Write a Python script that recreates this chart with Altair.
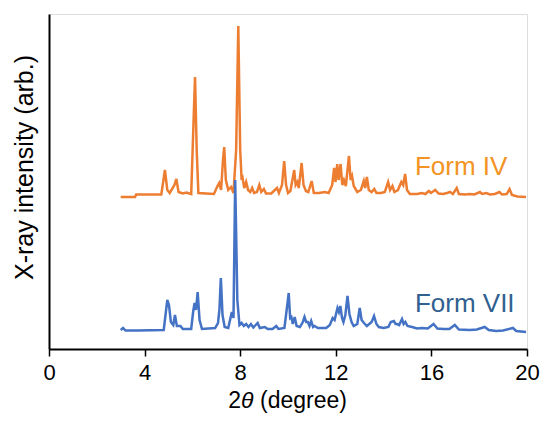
import altair as alt
import pandas as pd

# Form IV pattern (2theta in degrees, intensity in arb. units incl. stacking offset)
iv_2theta = [3.0, 3.6, 3.65, 4.7, 4.85, 4.95, 5.05, 5.25, 5.33, 5.42, 5.6, 5.75, 5.95, 6.05, 6.11, 6.18, 6.25,
             6.9, 7.05, 7.12, 7.2, 7.28, 7.33, 7.4, 7.5, 7.62, 7.72, 7.83, 7.92, 8.0, 8.06, 8.1, 8.17, 8.25,
             8.33, 8.42, 8.5, 8.58, 8.7, 8.8, 8.88, 8.99, 9.08, 9.3, 9.45, 9.54, 9.62, 9.75, 9.84, 9.92, 10.0,
             10.1, 10.2, 10.26, 10.32, 10.39, 10.45, 10.57, 10.65, 10.75, 10.85, 10.99, 11.08, 11.3, 11.54,
             11.7, 11.85, 11.93, 11.99, 12.06, 12.12, 12.2, 12.27, 12.34, 12.42, 12.55, 12.62, 12.68, 12.75,
             12.9, 13.05, 13.17, 13.23, 13.3, 13.38, 13.5, 13.61, 13.7, 13.9, 14.05, 14.19, 14.27, 14.37,
             14.45, 14.6, 14.74, 14.82, 14.9, 14.98, 15.1, 15.4, 15.6, 15.75, 15.89, 15.98, 16.16, 16.3,
             16.5, 16.65, 16.78, 16.9, 17.06, 17.15, 17.4, 17.6, 17.8, 18.03, 18.12, 18.3, 18.45, 18.65,
             18.85, 18.95, 19.15, 19.27, 19.37, 19.6, 19.96]
iv_intensity = [152, 152, 154.5, 154.5, 179, 159, 156, 164, 170, 157, 155.5, 156.5, 155, 229, 272, 199, 156,
                155, 163, 166, 159, 189, 202, 169, 159, 162, 156, 199, 323, 199, 169, 171, 161, 167,
                159, 157, 161, 156, 157, 164, 157, 160, 155.5, 155.5, 159, 161, 156, 164, 188, 164, 156,
                158, 171, 179, 164, 167, 161, 186, 164, 158, 157, 168, 156, 156, 157,
                156, 164, 181, 167, 185, 169, 185, 164, 169, 163, 193, 169, 173, 163,
                157, 159, 168, 161, 172, 159, 157, 160, 156, 156, 157, 167, 159, 163,
                157, 159, 167, 164, 175, 159, 155, 155, 156, 155, 158, 156, 159, 155.5,
                155, 156, 157, 155, 161, 155, 154.5, 155, 154.5, 157, 155, 156, 154.5, 155,
                157, 154.5, 155, 160, 154, 152.5, 152]

# Form VII pattern
vii_2theta = [3.0, 3.1, 3.2, 3.7, 4.8, 4.9, 4.95, 5.02, 5.1, 5.2, 5.27, 5.35, 5.5, 5.6, 5.95, 6.03, 6.09,
              6.15, 6.22, 6.3, 6.4, 6.95, 7.07, 7.13, 7.19, 7.26, 7.35, 7.5, 7.65, 7.72, 7.79, 7.88, 7.97,
              8.06, 8.15, 8.25, 8.35, 8.45, 8.55, 8.73, 8.82, 9.03, 9.15, 9.35, 9.51, 9.6, 9.85, 9.97,
              10.03, 10.09, 10.14, 10.2, 10.28, 10.36, 10.5, 10.62, 10.69, 10.76, 10.83, 10.9, 10.97,
              11.05, 11.11, 11.25, 11.6, 11.75, 11.87, 11.95, 12.07, 12.13, 12.19, 12.26, 12.32, 12.4,
              12.49, 12.57, 12.66, 12.75, 12.9, 13.0, 13.08, 13.18, 13.3, 13.5, 13.6, 13.7, 13.8, 14.0,
              14.2, 14.3, 14.43, 14.5, 14.56, 14.65, 14.77, 14.84, 14.91, 15.0, 15.19, 15.4, 15.6, 15.85,
              16.09, 16.25, 16.5, 16.75, 16.98, 17.15, 17.6, 17.9, 18.23, 18.4, 18.71, 19.0, 19.41,
              19.55, 19.96]
vii_intensity = [19, 21, 18.5, 18.5, 19, 39, 49, 44, 27, 24, 34, 23, 23, 20, 20, 37, 46,
                 39, 57, 29, 20, 21, 26, 39, 71, 34, 22, 21, 37, 31, 169, 49, 24,
                 26, 23, 25, 22, 25, 21.5, 26, 21, 22, 20, 20, 23, 20, 21, 44,
                 56, 31, 32, 25, 32, 23, 22, 27, 32, 27, 27, 23, 28,
                 22, 23, 21, 21, 24, 31, 29, 41, 37, 43, 31, 27, 34,
                 53, 35, 27, 23, 25, 41, 29, 26, 23, 27, 33, 25, 22, 21,
                 22, 27, 28, 25, 25, 24, 30, 25, 27, 23, 22, 20.5, 21, 20.5,
                 25, 20.5, 20, 20, 24, 19.5, 19, 19.5, 22, 19, 18, 18.5, 21,
                 18, 17]

series_labels = ["Form IV", "Form VII"]
label_2theta = [15.31, 15.31]
label_intensity = [174, 37]
x_ticks = [0, 4, 8, 12, 16, 20]

FONT = "Liberation Sans"
ORANGE = "#ED7D31"
BLUE = "#4472C4"

df_iv = pd.DataFrame({"t": iv_2theta, "i": iv_intensity})
df_vii = pd.DataFrame({"t": vii_2theta, "i": vii_intensity})
df_lab = pd.DataFrame({"label": series_labels, "t": label_2theta, "i": label_intensity,
                       "c": ["#F39323", "#30608F"]})

xscale = alt.Scale(domain=[0, 20], nice=False, zero=False)
yscale = alt.Scale(domain=[0, 335], nice=False, zero=False)

xaxis = alt.Axis(values=x_ticks, grid=False, title=None, labelFont=FONT, labelFontSize=22,
                 labelColor="black", labelPadding=6, tickSize=7, tickWidth=1.5, tickColor="black",
                 domainColor="black", domainWidth=2, labelFlush=False)
yaxis = alt.Axis(labels=False, ticks=False, grid=False, title="X-ray intensity  (arb.)",
                 titleFont=FONT, titleFontSize=25, titleFontWeight="normal", titleColor="black",
                 titleX=-17, titleY=153, titleAngle=270, titleAlign="center",
                 titleBaseline="alphabetic", domainColor="black", domainWidth=2)

line_iv = alt.Chart(df_iv).mark_line(color=ORANGE, strokeWidth=2.5, strokeJoin="miter").encode(
    x=alt.X("t:Q", scale=xscale, axis=xaxis),
    y=alt.Y("i:Q", scale=yscale, axis=yaxis),
)
line_vii = alt.Chart(df_vii).mark_line(color=BLUE, strokeWidth=2.5, strokeJoin="miter").encode(
    x=alt.X("t:Q", scale=xscale),
    y=alt.Y("i:Q", scale=yscale),
)
labels = alt.Chart(df_lab).mark_text(font=FONT, fontSize=26, align="left", baseline="alphabetic").encode(
    x=alt.X("t:Q", scale=xscale),
    y=alt.Y("i:Q", scale=yscale),
    text="label:N",
    color=alt.Color("c:N", scale=None),
)

# x-axis title: "2θ (degree)" with italic theta
TY = 394
t_two = alt.Chart(pd.DataFrame({"s": ["2"]})).mark_text(
    font=FONT, fontSize=23, align="right", baseline="alphabetic").encode(
    text="s:N", x=alt.value(192), y=alt.value(TY))
t_theta = alt.Chart(pd.DataFrame({"s": ["θ"]})).mark_text(
    font=FONT, fontSize=23, fontStyle="italic", align="left", baseline="alphabetic").encode(
    text="s:N", x=alt.value(192), y=alt.value(TY))
t_deg = alt.Chart(pd.DataFrame({"s": ["(degree)"]})).mark_text(
    font=FONT, fontSize=23, align="left", baseline="alphabetic").encode(
    text="s:N", x=alt.value(211), y=alt.value(TY))

chart = alt.layer(line_iv, line_vii, labels, t_two, t_theta, t_deg).properties(
    width=478, height=335,
    padding={"left": 41, "top": 6, "right": 13, "bottom": 64},
    autosize=alt.AutoSizeParams(type="none"),
).configure_view(stroke="black", strokeWidth=2).configure(background="white")

chart.save("out.html", embed_options={"renderer": "svg", "actions": False})
